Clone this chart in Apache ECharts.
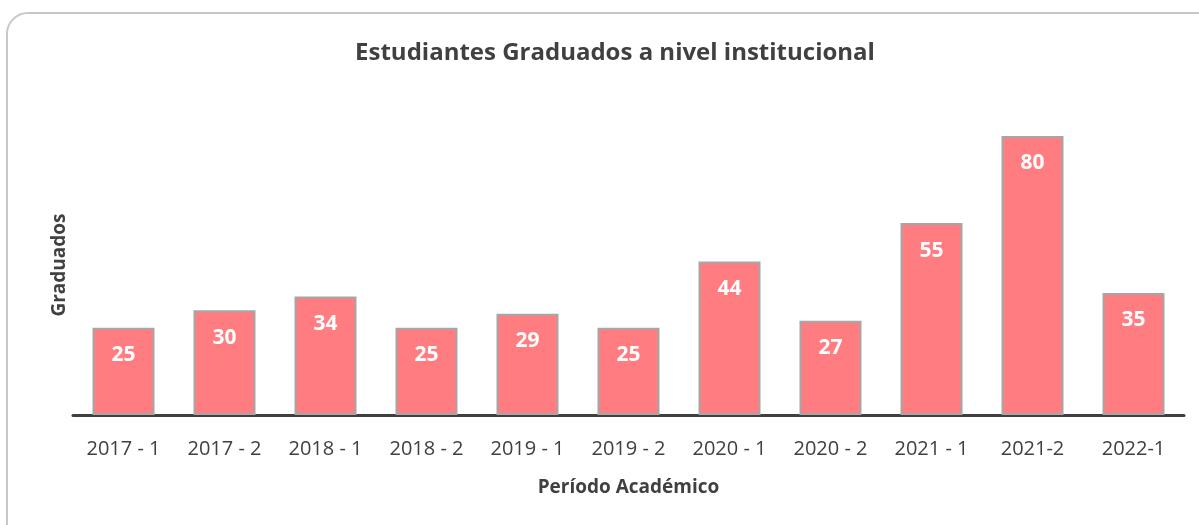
<html>
  <head>
    <meta http-equiv="Content-Type" content="text/html; charset=utf-8" />
    <script src="https://cdn.jsdelivr.net/npm/echarts@6/dist/echarts.min.js"></script>
    <style>
      body { margin: 0; overflow: hidden; background: #fff; }
      #frame { position: absolute; left: 6px; top: 12px; width: 1220px; height: 540px;
               border: 2px solid #c8c8c8; border-radius: 22px; }
      #main { position: absolute; left: 0; top: 0; width: 1199px; height: 525px; }
    </style>
  </head>
  <body>
    <div id="frame"></div>
    <div id="main"></div>
    <script type="text/javascript">
var periodos = ['2017 - 1', '2017 - 2', '2018 - 1', '2018 - 2', '2019 - 1', '2019 - 2',
                '2020 - 1', '2020 - 2', '2021 - 1', '2021-2', '2022-1'];
var graduados = [25, 30, 34, 25, 29, 25, 44, 27, 55, 80, 35];

var myChart = echarts.init(document.getElementById('main'));
var fuente = '"Open Sans", sans-serif';

var option = {
  title: {
    text: 'Estudiantes Graduados a nivel institucional',
    left: 610, top: 36, textAlign: 'center',
    textStyle: { fontFamily: fuente, fontSize: 24, fontWeight: 'bold', color: '#404040' }
  },
  grid: { left: 73, right: 15, top: 101, bottom: 110 },
  xAxis: {
    type: 'category',
    data: periodos,
    name: 'Período Académico',
    nameLocation: 'middle',
    nameGap: 63,
    nameTextStyle: { fontFamily: fuente, fontSize: 19, fontWeight: 'bold', color: '#404040' },
    axisLine: { lineStyle: { color: '#404040', width: 3 } },
    axisTick: { show: false },
    axisLabel: { fontFamily: fuente, fontSize: 20, color: '#404040', margin: 24, interval: 0 }
  },
  yAxis: {
    type: 'value',
    min: 0, max: 90,
    name: 'Graduados',
    nameLocation: 'middle',
    nameRotate: 90,
    nameGap: 4,
    nameTextStyle: { fontFamily: fuente, fontSize: 19, fontWeight: 'bold', color: '#404040', padding: [0, 0, 0, -14] },
    axisLine: { show: false },
    axisTick: { show: false },
    axisLabel: { show: false },
    splitLine: { show: false }
  },
  series: [{
    type: 'bar',
    data: graduados,
    barWidth: 62,
    itemStyle: { color: '#FF7C80', borderColor: '#a6a6a6', borderWidth: 2 },
    label: {
      show: true, position: 'insideTop', distance: 17,
      fontFamily: fuente, fontSize: 21, fontWeight: 'bold', color: '#ffffff'
    }
  }]
};

myChart.setOption(option);
    </script>
  </body>
</html>
